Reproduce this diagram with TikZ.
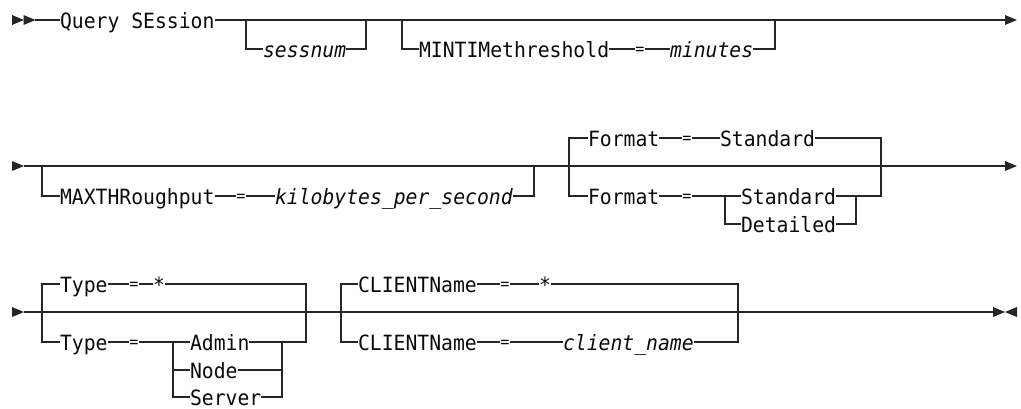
\documentclass[tikz,border=0pt]{standalone}
\usepackage{fontspec}
\setmonofont[FakeStretch=0.94]{DejaVu Sans Mono}
\definecolor{ln}{HTML}{262626}
\definecolor{txt}{HTML}{0A0A0A}
\tikzset{
  tok/.style={font=\ttfamily\fontsize{21pt}{24pt}\selectfont, inner sep=0pt, outer sep=0pt,
    text height=16pt, text depth=0pt, anchor=west, text=txt},
  tokit/.style={tok, font=\ttfamily\itshape\fontsize{21pt}{24pt}\selectfont},
  sym/.style={tok, anchor=center},
  eqs/.style={tok, anchor=center, font=\ttfamily\fontsize{16pt}{18pt}\selectfont,
    text height=11.4pt, inner xsep=0.8pt},
  rail/.style={draw=ln, line width=1.35pt},
  rtip/.pic={\fill[ln] (0,-5) -- (12,0) -- (0,5) -- cycle;},
  ltip/.pic={\fill[ln] (0,0) -- (12,-5) -- (12,5) -- cycle;}
}
\begin{document}
\begin{tikzpicture}[x=1pt,y=-1pt]
\useasboundingbox (0,0) rectangle (1021,408);

% ---------- row 1 ----------
\coordinate (r1s) at (12,20);
\coordinate (r1m) at (23.5,20);
\coordinate (r1a) at (35,20);
\coordinate (r1e) at (1005,20);
\pic at (r1s) {rtip};
\pic at (r1m) {rtip};
\node[tok] (qs) at (60,20) {Query SEssion};
\node[tokit] (sn) at (263,49) {sessnum};
\node[tok] (mt) at (419,49) {MINTIMethreshold};
\node[eqs] (eq1) at (640,49) {=};
\node[tokit] (mn) at (670,49) {minutes};
\coordinate (j1a) at (246,20);
\coordinate (j1b) at (366,20);
\coordinate (j1c) at (402,20);
\coordinate (j1d) at (775,20);
\draw[rail] (r1a) -- (qs.west);
\draw[rail] (qs.east) -- (r1e);
\pic at (r1e) {rtip};
\draw[rail] (j1a) |- (sn.west);
\draw[rail] (sn.east) -| (j1b);
\draw[rail] (j1c) |- (mt.west);
\draw[rail] (mt.east) -- (eq1.west);
\draw[rail] (eq1.east) -- (mn.west);
\draw[rail] (mn.east) -| (j1d);

% ---------- row 2 ----------
\coordinate (r2s) at (12,166);
\coordinate (r2a) at (24,166);
\coordinate (r2e) at (1005,166);
\pic at (r2s) {rtip};
\draw[rail] (r2a) -- (r2e);
\pic at (r2e) {rtip};
\node[tok] (mx) at (60,196) {MAXTHRoughput};
\node[eqs] (eq2) at (241,196) {=};
\node[tokit] (kb) at (275,196) {kilobytes\_per\_second};
\coordinate (j2a) at (42,166);
\coordinate (j2b) at (534,166);
\draw[rail] (j2a) |- (mx.west);
\draw[rail] (mx.east) -- (eq2.west);
\draw[rail] (eq2.east) -- (kb.west);
\draw[rail] (kb.east) -| (j2b);

\node[tok] (fm1) at (588,138) {Format};
\node[eqs] (eq3) at (687,138) {=};
\node[tok] (sd1) at (720,138) {Standard};
\node[tok] (fm2) at (588,196) {Format};
\node[eqs] (eq4) at (687,196) {=};
\node[tok] (sd2) at (741,196) {Standard};
\node[tok] (dt) at (741,224) {Detailed};
\coordinate (j2c) at (569,196);
\coordinate (j2d) at (881,196);
\coordinate (j2e) at (725,196);
\coordinate (j2f) at (856,196);
\draw[rail] (fm1.west) -| (j2c) -- (fm2.west);
\draw[rail] (fm1.east) -- (eq3.west);
\draw[rail] (eq3.east) -- (sd1.west);
\draw[rail] (sd1.east) -| (j2d) -- (sd2.east);
\draw[rail] (fm2.east) -- (eq4.west);
\draw[rail] (eq4.east) -- (sd2.west);
\draw[rail] (j2e) |- (dt.west);
\draw[rail] (dt.east) -| (j2f);

% ---------- row 3 ----------
\coordinate (r3s) at (12,312);
\coordinate (r3a) at (24,312);
\coordinate (r3e) at (993,312);
\coordinate (r3f) at (1005,312);
\pic at (r3s) {rtip};
\draw[rail] (r3a) -- (r3e);
\pic at (r3e) {rtip};
\pic at (r3f) {ltip};
\coordinate (k1) at (743,312);
\coordinate (k2) at (768,312);
\draw[rail, line width=2pt] (k1) -- (k2);

\node[tok] (tp1) at (60,284) {Type};
\node[eqs] (eq5) at (134,284) {=};
\node[sym] (st1) at (159,284) {*};
\node[tok] (tp2) at (60,342) {Type};
\node[eqs] (eq6) at (134,342) {=};
\node[tok] (ad) at (190,342) {Admin};
\node[tok] (nd) at (190,370) {Node};
\node[tok] (sv) at (190,397) {Server};
\coordinate (j3a) at (42,342);
\coordinate (j3b) at (306,342);
\coordinate (j3c) at (173,342);
\coordinate (j3d) at (282,342);
\coordinate (j3e) at (173,370);
\coordinate (j3f) at (282,370);
\draw[rail] (tp1.west) -| (j3a) -- (tp2.west);
\draw[rail] (tp1.east) -- (eq5.west);
\draw[rail] (eq5.east) -- (st1.west);
\draw[rail] (st1.east) -| (j3b) -- (ad.east);
\draw[rail] (tp2.east) -- (eq6.west);
\draw[rail] (eq6.east) -- (ad.west);
\draw[rail] (j3c) |- (sv.west);
\draw[rail] (j3e) -- (nd.west);
\draw[rail] (sv.east) -| (j3d);
\draw[rail] (nd.east) -- (j3f);

\node[tok] (cl1) at (358,284) {CLIENTName};
\node[eqs] (eq7) at (505,284) {=};
\node[sym] (st2) at (545,284) {*};
\node[tok] (cl2) at (358,342) {CLIENTName};
\node[eqs] (eq8) at (505,342) {=};
\node[tokit] (cn) at (563,342) {client\_name};
\coordinate (j3g) at (341,342);
\coordinate (j3h) at (738,342);
\draw[rail] (cl1.west) -| (j3g) -- (cl2.west);
\draw[rail] (cl1.east) -- (eq7.west);
\draw[rail] (eq7.east) -- (st2.west);
\draw[rail] (st2.east) -| (j3h) -- (cn.east);
\draw[rail] (cl2.east) -- (eq8.west);
\draw[rail] (eq8.east) -- (cn.west);
\end{tikzpicture}
\end{document}
